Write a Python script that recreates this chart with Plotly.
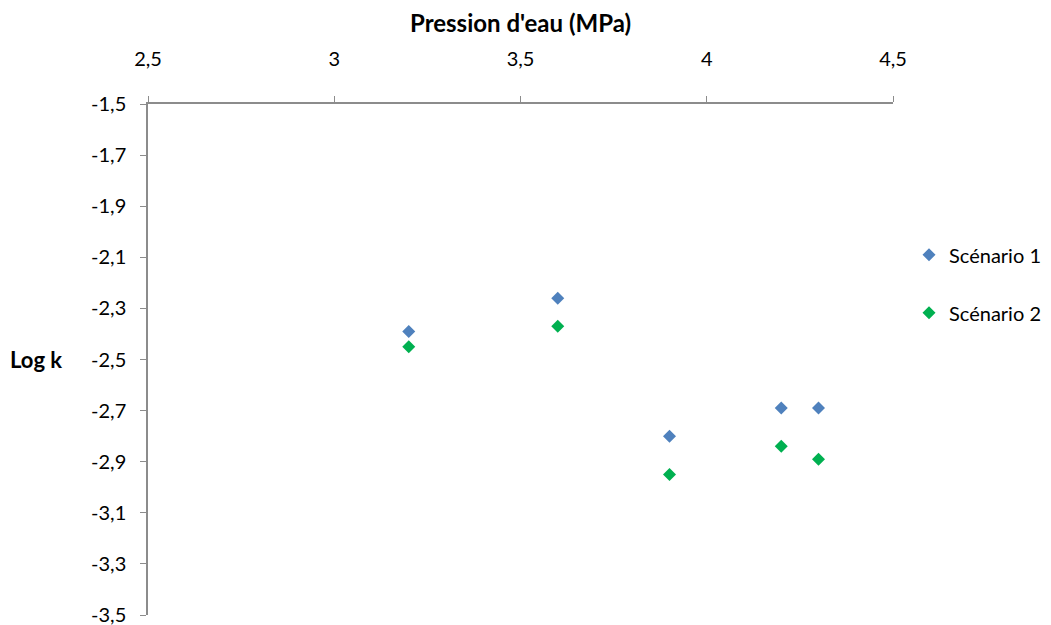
import plotly.graph_objects as go

pression = [3.2, 3.6, 3.9, 4.2, 4.3]
scenario1 = [-2.39, -2.26, -2.80, -2.69, -2.69]
scenario2 = [-2.45, -2.37, -2.95, -2.84, -2.89]

x_ticks = [2.5, 3, 3.5, 4, 4.5]
x_ticklabels = ["2,5", "3", "3,5", "4", "4,5"]
y_ticks = [-1.5, -1.7, -1.9, -2.1, -2.3, -2.5, -2.7, -2.9, -3.1, -3.3, -3.5]
y_ticklabels = ["-1,5", "-1,7", "-1,9", "-2,1", "-2,3", "-2,5", "-2,7", "-2,9", "-3,1", "-3,3", "-3,5"]

FONT = "Lato"
FS = 20

fig = go.Figure()
fig.add_trace(go.Scatter(x=pression, y=scenario1, mode="markers", name="Scénario 1",
                         legendgroup="a",
                         marker=dict(symbol="diamond", size=10, color="#4F81BD")))
fig.add_trace(go.Scatter(x=pression, y=scenario2, mode="markers", name="Scénario 2",
                         legendgroup="b",
                         marker=dict(symbol="diamond", size=10, color="#00B050")))

fig.update_layout(
    width=1051, height=625,
    margin=dict(l=140, r=166, t=96, b=18),
    paper_bgcolor="white", plot_bgcolor="white",
    font=dict(family=FONT, size=FS, color="black"),
    separators=", ",
    showlegend=True,
    legend=dict(x=1.0215, y=0.743, xanchor="left", yanchor="top",
                tracegroupgap=29, itemwidth=30,
                font=dict(family=FONT, size=FS, color="black"),
                bgcolor="rgba(0,0,0,0)"),
    xaxis=dict(range=[2.5, 4.5], side="top", tickvals=x_ticks, ticktext=x_ticklabels,
               showgrid=False, zeroline=False, showline=True, linecolor="#8c8c8c",
               linewidth=1.5, ticks="outside", ticklen=6, tickcolor="#8c8c8c",
               ticklabelstandoff=22, automargin=False,
               title=dict(text="<b>Pression d'eau (MPa)</b>", font=dict(size=24), standoff=21)),
    yaxis=dict(range=[-3.5, -1.5], tickvals=y_ticks, ticktext=y_ticklabels,
               showgrid=False, zeroline=False, showline=True, linecolor="#8c8c8c",
               linewidth=1.5, ticks="outside", ticklen=6, tickcolor="#8c8c8c",
               ticklabelstandoff=10, automargin=False),
    annotations=[dict(text="<b>Log k</b>", xref="paper", yref="paper", x=-0.1497, y=0.5,
                      xanchor="center", yanchor="middle", showarrow=False,
                      font=dict(family=FONT, size=22, color="black"))],
)

fig.write_html("out.html")
